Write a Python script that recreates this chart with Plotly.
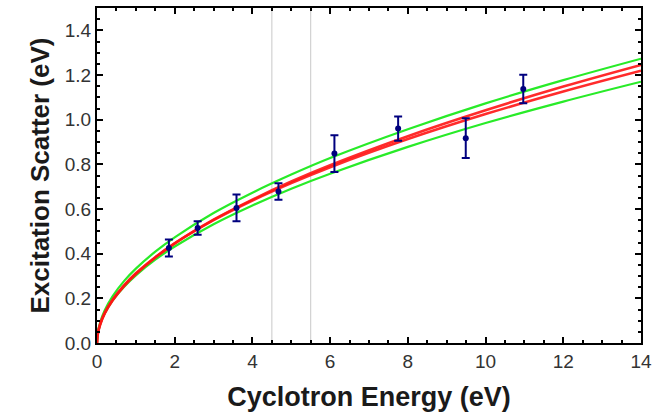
import plotly.graph_objects as go

# Measured points
energy = [1.85, 2.59, 3.59, 4.67, 6.11, 7.75, 9.49, 10.97]
scatter = [0.425, 0.515, 0.605, 0.678, 0.848, 0.960, 0.917, 1.137]
scatter_err = [0.038, 0.030, 0.060, 0.037, 0.082, 0.054, 0.089, 0.064]

# Fit curves
curve_x = [0, 0.02, 0.08, 0.2, 0.4, 0.7, 1, 1.5, 2, 3, 4, 5, 6, 8, 10, 12, 14]
red_a = [0, 0.039, 0.081, 0.132, 0.190, 0.256, 0.309, 0.383, 0.446, 0.552, 0.642, 0.723, 0.796, 0.926, 1.042, 1.148, 1.245]
red_b = [0, 0.041, 0.084, 0.136, 0.194, 0.259, 0.312, 0.384, 0.446, 0.550, 0.638, 0.716, 0.787, 0.913, 1.025, 1.126, 1.219]
green_upper = [0, 0.046, 0.092, 0.147, 0.209, 0.278, 0.333, 0.409, 0.473, 0.582, 0.673, 0.754, 0.828, 0.957, 1.073, 1.177, 1.273]
green_lower = [0, 0.041, 0.083, 0.133, 0.190, 0.252, 0.303, 0.373, 0.432, 0.532, 0.616, 0.691, 0.758, 0.878, 0.985, 1.081, 1.170]

# Reference lines
vlines = [4.5, 5.5]

fig = go.Figure()

for v in vlines:
    fig.add_vline(x=v, line=dict(color="#c8c8c8", width=1), layer="below")

for g in [green_upper, green_lower]:
    fig.add_trace(go.Scatter(x=curve_x, y=g, mode="lines", line=dict(color="rgb(40,235,40)", width=2.2, shape="spline"), showlegend=False, hoverinfo="skip"))
for r in [red_a, red_b]:
    fig.add_trace(go.Scatter(x=curve_x, y=r, mode="lines", line=dict(color="rgba(255,20,20,0.9)", width=2.6, shape="spline"), showlegend=False, hoverinfo="skip"))

fig.add_trace(go.Scatter(
    x=energy, y=scatter, mode="markers",
    marker=dict(color="#00007f", size=6),
    error_y=dict(type="data", array=scatter_err, color="#00007f", thickness=2, width=4),
    showlegend=False,
))

axis_common = dict(
    showgrid=False, zeroline=False, showline=True, linecolor="black", linewidth=2,
    mirror="allticks", ticks="inside", ticklen=6, tickwidth=1.5, tickcolor="black",
    tickfont=dict(family="Liberation Sans, Arial", size=19, color="#333333"),
)

fig.update_xaxes(
    range=[0, 14], tickvals=[0, 2, 4, 6, 8, 10, 12, 14],
    minor=dict(ticks="inside", dtick=0.5, ticklen=3, tickcolor="black", tickwidth=1.5),
    title=dict(text="<b>Cyclotron Energy (eV)</b>", font=dict(family="Liberation Sans, Arial", size=27, color="#1a1a1a"), standoff=16),
    **axis_common,
)
fig.update_yaxes(
    range=[0, 1.5], tickvals=[0, 0.2, 0.4, 0.6, 0.8, 1.0, 1.2, 1.4], tickformat=".1f",
    minor=dict(ticks="inside", dtick=0.05, ticklen=3, tickcolor="black", tickwidth=1.5),
    title=dict(text="<b>Excitation Scatter (eV)</b>", font=dict(family="Liberation Sans, Arial", size=26, color="#1a1a1a"), standoff=8),
    **axis_common,
)

fig.update_layout(
    width=664, height=414,
    margin=dict(l=97, r=23, t=6, b=71),
    plot_bgcolor="white", paper_bgcolor="white",
)

fig.write_html("out.html", config={"displayModeBar": False}, post_script="document.body.style.margin='0';")
